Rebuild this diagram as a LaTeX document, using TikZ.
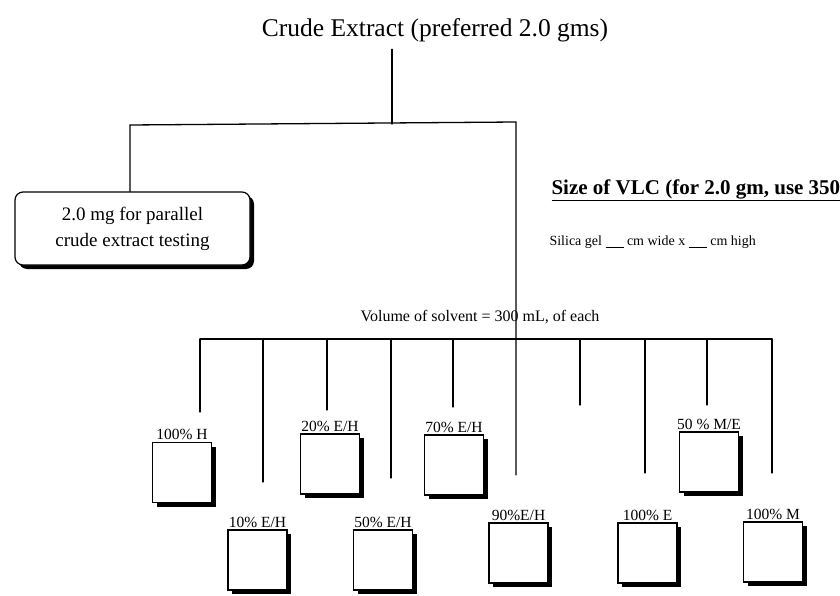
\documentclass[tikz,border=0pt]{standalone}
\usepackage{fontspec}
\setmainfont{Liberation Serif}
\usetikzlibrary{positioning,shadows}
\tikzset{
  fracbox/.style={draw,line width=1.2pt,fill=white,minimum width=59pt,minimum height=60pt,inner sep=0pt,
    drop shadow={shadow xshift=4pt,shadow yshift=-4pt,opacity=1,fill=black}},
  fraclab/.style={font=\fontsize{15.5}{16}\selectfont,inner sep=0.5pt},
  wire/.style={line width=1.3pt,line cap=round}
}

\begin{document}
\begin{tikzpicture}[x=1pt,y=-1pt]
  \useasboundingbox (0,0) rectangle (840,596);
  % Top
  \node (crude) at (435,30) {\fontsize{25.5}{27}\selectfont Crude Extract (preferred 2.0 gms)};
  \coordinate (split) at (392,124);
  \coordinate (lcorner) at (130,125);
  \coordinate (rcorner) at (516,122);
  \node[draw,line width=1.2pt,fill=white,rounded corners=8pt,minimum width=235pt,minimum height=73pt,align=center,
    font=\fontsize{19}{26}\selectfont,
    drop shadow={shadow xshift=4pt,shadow yshift=-4pt,opacity=1,fill=black}] (par) at (132.5,228.5)
    {2.0 mg for parallel\\crude extract testing};
  \draw[wire] ([yshift=-4pt]crude.south -| split) -- (split);
  \draw[wire] (par.north -| lcorner) -- (lcorner) -- (rcorner) -- ++(0,353) coordinate (longend);
  % VLC notes
  \node[anchor=west,font=\bfseries\fontsize{21}{22}\selectfont] (vlc) at (548,190) {\underline{Size of VLC (for 2.0 gm, use 350}};
  \node[anchor=west,font=\fontsize{14}{15}\selectfont] (silica) at (546,242) {Silica gel \underline{\hspace{18pt}} cm wide x \underline{\hspace{18pt}} cm high};
  \node[font=\fontsize{16}{17}\selectfont] (volume) at (480,317) {Volume of solvent = 300 mL, of each};
  % Bus and drops
  \coordinate (busl) at (200,339);
  \coordinate (busr) at (772,339);
  \draw[wire] (busl) -- (busr);
  \foreach \x/\y [count=\i] in {200/412,263/482,327/410,391/478,453/407,580/405,645/473,707/405,772/473}
    \draw[wire] (\x,339) -- (\x,\y) coordinate (drop\i);
  % Fractions, top row
  \node[fracbox,label={[fraclab,label distance=1pt]above:100\% H}] (h100) at (182,472.5) {};
  \node[fracbox,label={[fraclab,label distance=1pt]above:20\% E/H}] (eh20) at (330,464) {};
  \node[fracbox,label={[fraclab,label distance=1pt]above:70\% E/H}] (eh70) at (454,465) {};
  \node[fracbox,label={[fraclab,label distance=1pt]above:50 \% M/E}] (me50) at (709,462) {};
  % Fractions, bottom row
  \node[fracbox,label={[fraclab,label distance=1pt]above:10\% E/H}] (eh10) at (257.5,560) {};
  \node[fracbox,label={[fraclab,label distance=1pt]above:50\% E/H}] (eh50) at (383,560) {};
  \node[fracbox,label={[fraclab,label distance=1pt]above:90\%E/H}] (eh90) at (518.5,553) {};
  \node[fracbox,label={[fraclab,label distance=1pt]above:100\% E}] (e100) at (647.5,553) {};
  \node[fracbox,label={[fraclab,label distance=1pt]above:100\% M}] (m100) at (773,552) {};
\end{tikzpicture}
\end{document}
